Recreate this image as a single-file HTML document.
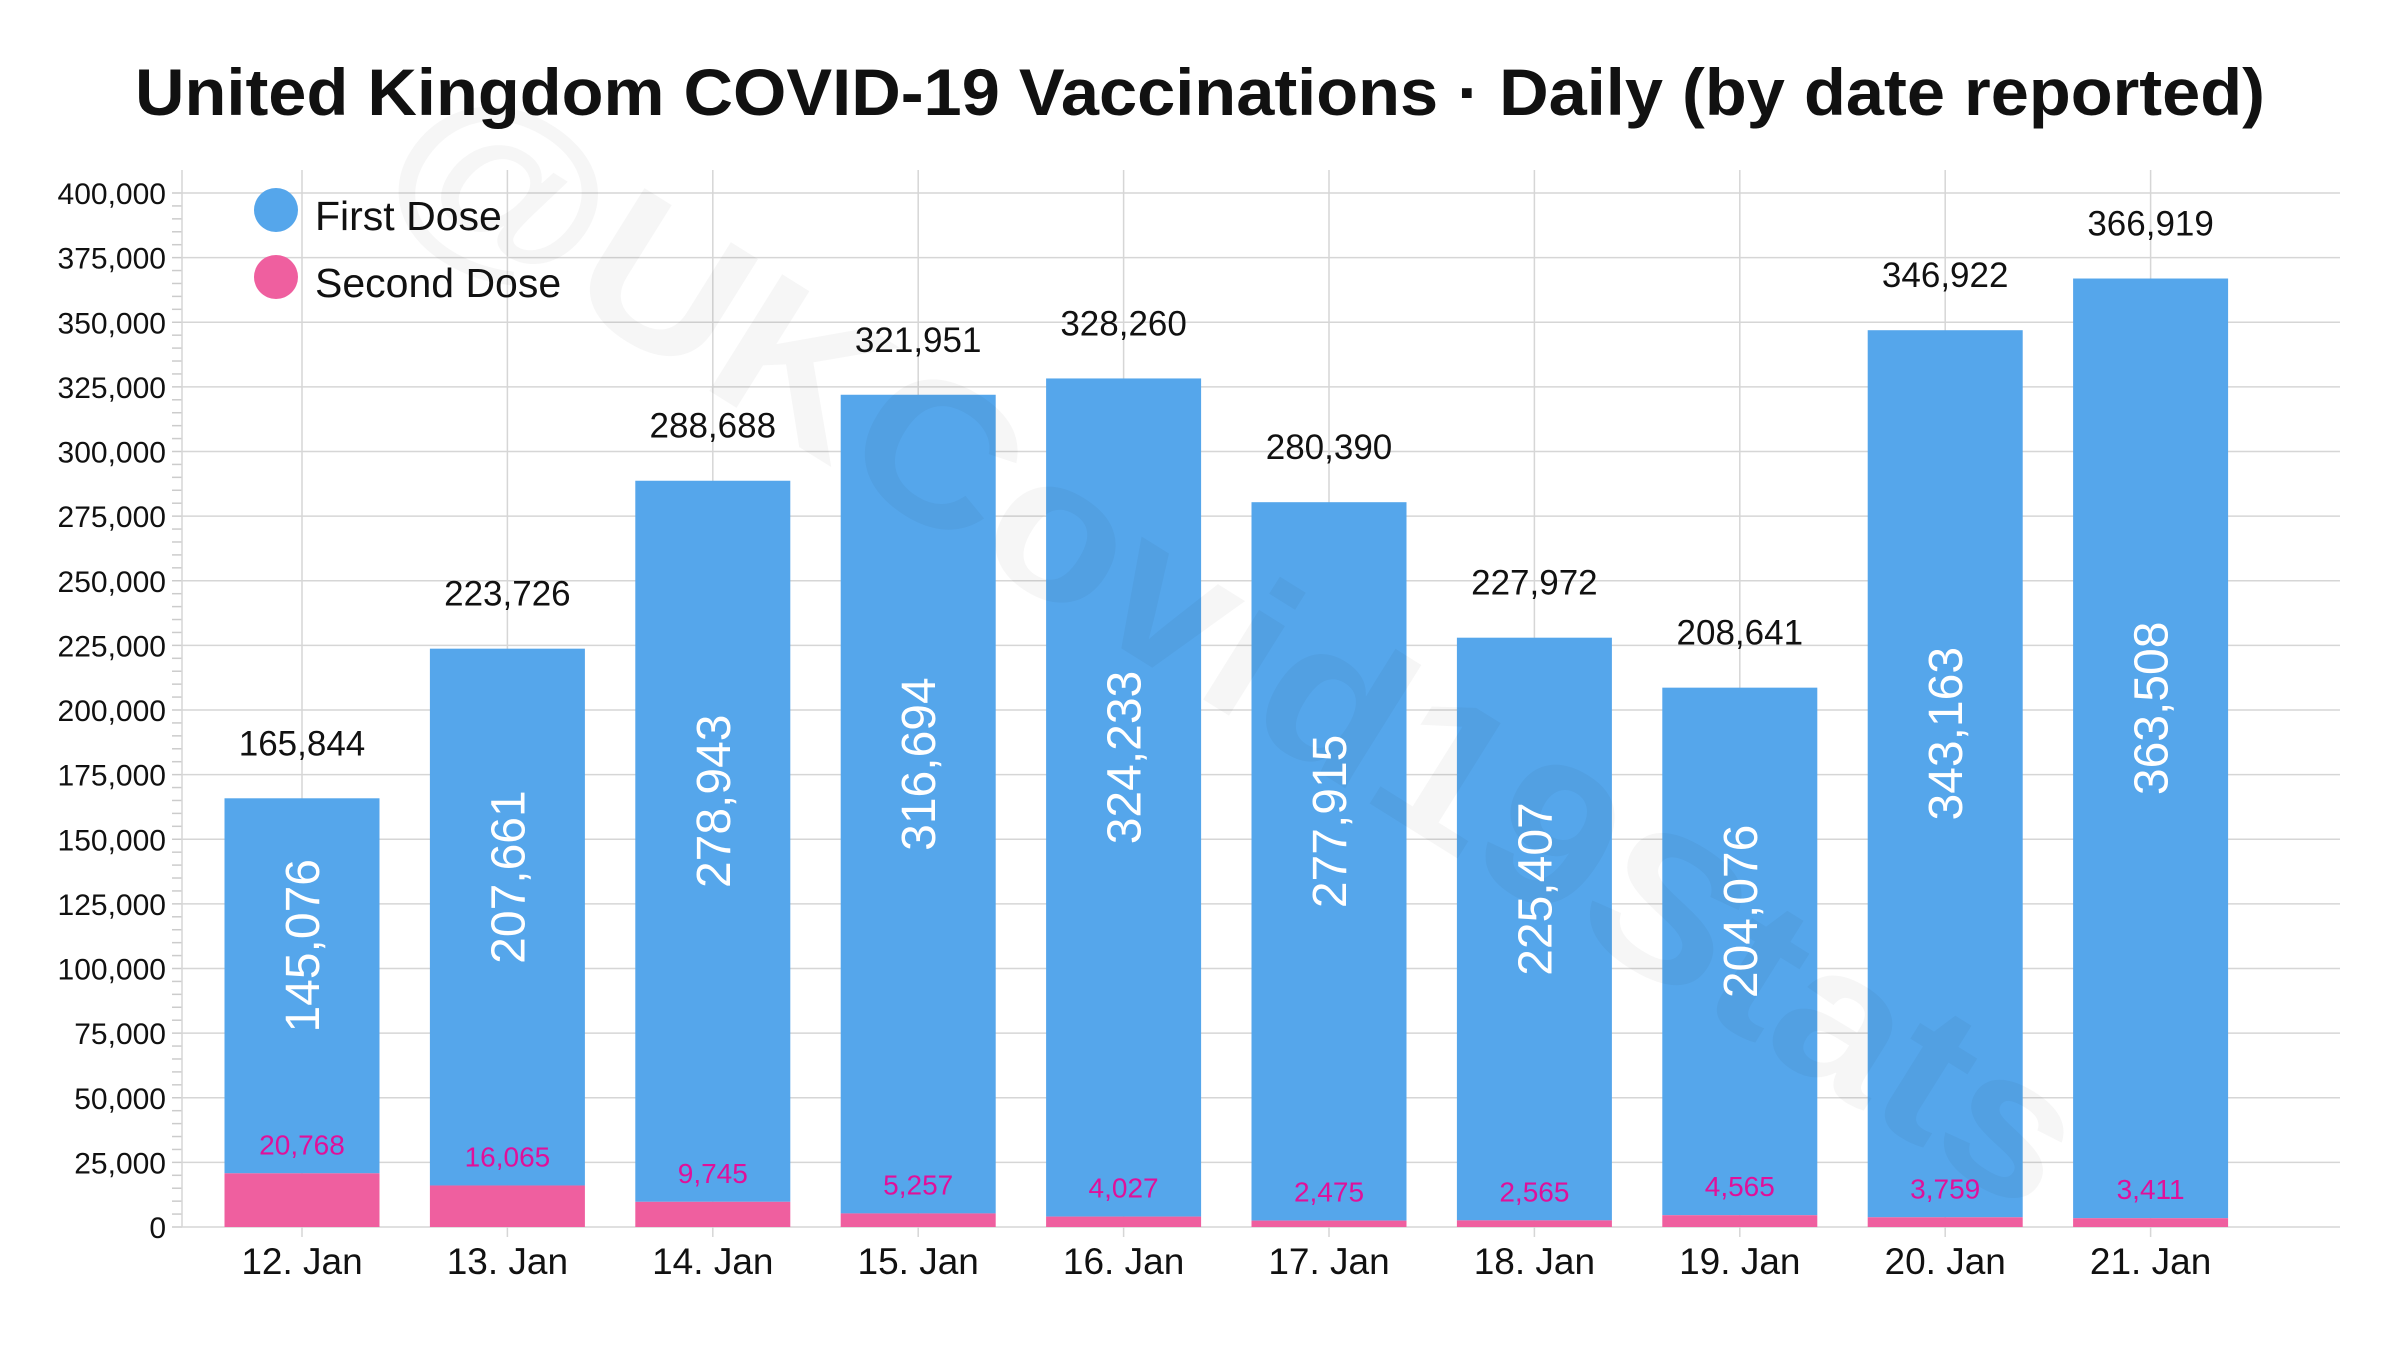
<!DOCTYPE html>
<html><head><meta charset="utf-8"><style>
html,body{margin:0;padding:0;background:#fff;}
svg{display:block;font-family:"Liberation Sans",sans-serif;}
</style></head><body>
<svg id="chart" width="2400" height="1350" viewBox="0 0 2400 1350">
<text x="1200" y="115" text-anchor="middle" font-size="66" font-weight="bold" fill="#111" textLength="2130" lengthAdjust="spacingAndGlyphs">United Kingdom COVID-19 Vaccinations · Daily (by date reported)</text>
<g id="grid"></g><g id="bars"></g>
<text x="0" y="70" transform="translate(1240,640) rotate(32)" text-anchor="middle" font-size="200" font-weight="bold" fill="#000" fill-opacity="0.035" textLength="1950" lengthAdjust="spacingAndGlyphs">@UKCovid19Stats</text>
<g id="labels"></g>
<g>
<circle cx="276" cy="210" r="22" fill="#55a6eb"/>
<text x="315" y="230" font-size="41" fill="#111">First Dose</text>
<circle cx="276" cy="277" r="22" fill="#ef5f9f"/>
<text x="315" y="297" font-size="41" fill="#111">Second Dose</text>
</g>
</svg>
<script>
const categories = ["12. Jan","13. Jan","14. Jan","15. Jan","16. Jan","17. Jan","18. Jan","19. Jan","20. Jan","21. Jan"];
const firstDose = [145076,207661,278943,316694,324233,277915,225407,204076,343163,363508];
const secondDose = [20768,16065,9745,5257,4027,2475,2565,4565,3759,3411];
const yTicks = [0,25000,50000,75000,100000,125000,150000,175000,200000,225000,250000,275000,300000,325000,350000,375000,400000];

const NS="http://www.w3.org/2000/svg";
const X0=182,X1=2340,Y0=1227,YTOP=193,YMAX=400000;
const y=v=>Y0-(v/YMAX)*(Y0-YTOP);
const xc=i=>302+i*205.4;
const BW=155;
const fmt=v=>v.toLocaleString('en-US');
function mk(tag,attrs,parent,txt){const e=document.createElementNS(NS,tag);for(const k in attrs)e.setAttribute(k,attrs[k]);if(txt!==undefined)e.textContent=txt;parent.appendChild(e);return e;}
const grid=document.getElementById('grid'),bars=document.getElementById('bars'),labels=document.getElementById('labels');
for(let v=0;v<=YMAX;v+=5000){const l=mk('line',{x1:172,x2:182,y1:y(v),y2:y(v),stroke:'#ccc','stroke-width':1.5},grid);

}
yTicks.forEach(v=>{
const g=mk('line',{x1:X0,x2:X1,y1:y(v),y2:y(v),stroke:'#d6d6d6','stroke-width':1.5},grid);


const t=mk('text',{x:166,y:y(v)+11,'text-anchor':'end','font-size':30,fill:'#111'},grid,fmt(v));


});
const ax=mk('line',{x1:X0,x2:X0,y1:170,y2:Y0,stroke:'#d6d6d6','stroke-width':1.5},grid);


categories.forEach((c,i)=>{
const cx=xc(i);
const vg=mk('line',{x1:cx,x2:cx,y1:170,y2:Y0+10,stroke:'#d6d6d6','stroke-width':1.5},grid);


const xl=mk('text',{x:cx,y:Y0+47,'text-anchor':'middle','font-size':37,fill:'#111'},labels,c);


const tot=firstDose[i]+secondDose[i];
const b1=mk('rect',{x:cx-BW/2,y:y(tot),width:BW,height:y(secondDose[i])-y(tot),fill:'#55a6eb'},bars);


const b2=mk('rect',{x:cx-BW/2,y:y(secondDose[i]),width:BW,height:Y0-y(secondDose[i]),fill:'#ef5f9f'},bars);


const tl=mk('text',{x:cx,y:y(tot)-43,'text-anchor':'middle','font-size':35,fill:'#111'},labels,fmt(tot));


const my=(y(tot)+y(secondDose[i]))/2-40;
const fl=mk('text',{x:0,y:0,transform:`translate(${cx+17},${my}) rotate(-90)`,'text-anchor':'middle','font-size':48,fill:'#fff'},labels,fmt(firstDose[i]));


const sl=mk('text',{x:cx,y:y(secondDose[i])-19,'text-anchor':'middle','font-size':28,fill:'#e0109a'},labels,fmt(secondDose[i]));


});
</script>
</body></html>
